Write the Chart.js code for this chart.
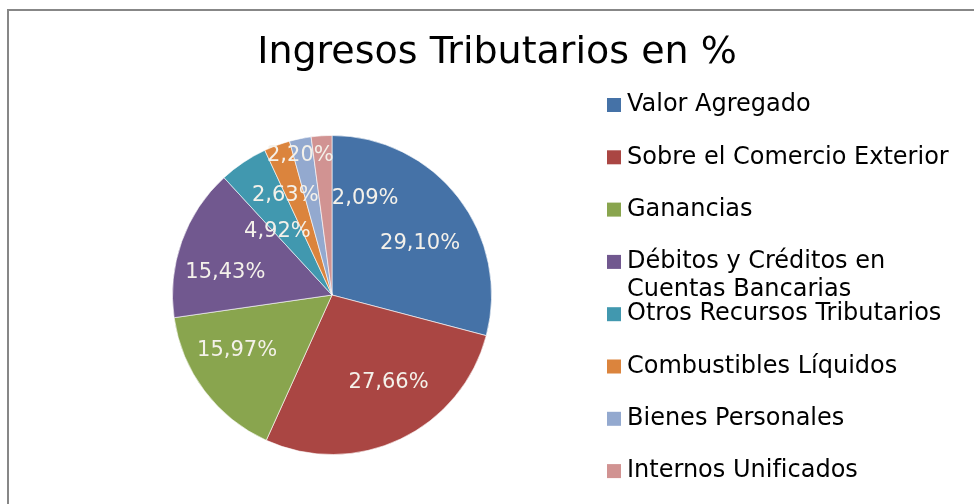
<!DOCTYPE html>
<html lang="es">
<head>
  <meta charset="UTF-8" />
  <title>Ingresos Tributarios en %</title>
  <script src="https://cdn.jsdelivr.net/npm/chart.js"></script>
  <style>
    html, body { margin: 0; padding: 0; background: #fff; overflow: hidden; }
    #marco {
      position: absolute; left: 7px; top: 9px; width: 1000px; height: 600px;
      border-left: 2px solid #878787; border-top: 2px solid #878787;
    }
    #lienzo { position: absolute; left: 0; top: 0; }
  </style>
</head>
<body>
  <div id="marco"></div>
  <canvas id="lienzo" width="974" height="504"></canvas>

  <script>
    // Datos
    const categorias = [
      'Valor Agregado',
      'Sobre el Comercio Exterior',
      'Ganancias',
      ['Débitos y Créditos en', 'Cuentas Bancarias'],
      'Otros Recursos Tributarios',
      'Combustibles Líquidos',
      'Bienes Personales',
      'Internos Unificados'
    ];
    const porcentajes = [29.10, 27.66, 15.97, 15.43, 4.92, 2.63, 2.20, 2.09];
    const colores = ['#4572A7', '#AA4643', '#89A54E', '#71588F', '#4198AF', '#DB843D', '#93A9CF', '#D19392'];

    const fuente = '"DejaVu Sans", sans-serif';

    // ajustes de posición de las etiquetas (como las dejó Excel)
    const ajustes = [[6, 12], [12, -6], [-12, -7], [-9, 12], [3, 23], [-11, -2], [-11, -38], [40, 7]];

    const titulo = {
      id: 'titulo',
      afterDraw(chart) {
        const c = chart.ctx;
        c.save();
        c.fillStyle = '#000';
        c.font = '38px ' + fuente;
        c.textAlign = 'center';
        c.textBaseline = 'middle';
        c.fillText('Ingresos Tributarios en %', 497, 53);
        c.restore();
      }
    };

    const etiquetas = {
      id: 'etiquetas',
      afterDatasetsDraw(chart) {
        const c = chart.ctx;
        const meta = chart.getDatasetMeta(0);
        c.save();
        c.fillStyle = '#f4f1ea';
        c.font = '21px ' + fuente;
        c.textAlign = 'center';
        c.textBaseline = 'middle';
        meta.data.forEach((arco, i) => {
          const p = arco.getProps(['x', 'y', 'startAngle', 'endAngle', 'outerRadius'], true);
          const a = (p.startAngle + p.endAngle) / 2;
          const r = p.outerRadius * 0.65;
          const x = p.x + Math.cos(a) * r + ajustes[i][0];
          const y = p.y + Math.sin(a) * r + ajustes[i][1];
          c.fillText(porcentajes[i].toFixed(2).replace('.', ',') + '%', x, y);
        });
        c.restore();
      }
    };

    const leyenda = {
      id: 'leyenda',
      afterDraw(chart) {
        const c = chart.ctx;
        c.save();
        c.font = '24px ' + fuente;
        c.textBaseline = 'middle';
        chart.data.labels.forEach((lab, i) => {
          const y = 105 + i * 52.3;
          c.fillStyle = colores[i];
          c.fillRect(607, y - 7, 14, 14);
          c.fillStyle = '#000';
          const lineas = Array.isArray(lab) ? lab : [lab];
          lineas.forEach((t, k) => c.fillText(t, 627, y + k * 28));
        });
        c.restore();
      }
    };

    new Chart(document.getElementById('lienzo'), {
      type: 'pie',
      data: {
        labels: categorias,
        datasets: [{
          data: porcentajes,
          backgroundColor: colores,
          borderColor: 'rgba(255,255,255,0.6)',
          borderWidth: 1
        }]
      },
      options: {
        responsive: false,
        animation: false,
        layout: { padding: { top: 135, bottom: 49, left: 172, right: 482 } },
        plugins: {
          legend: { display: false },
          tooltip: { enabled: false }
        }
      },
      plugins: [titulo, etiquetas, leyenda]
    });
  </script>
</body>
</html>
